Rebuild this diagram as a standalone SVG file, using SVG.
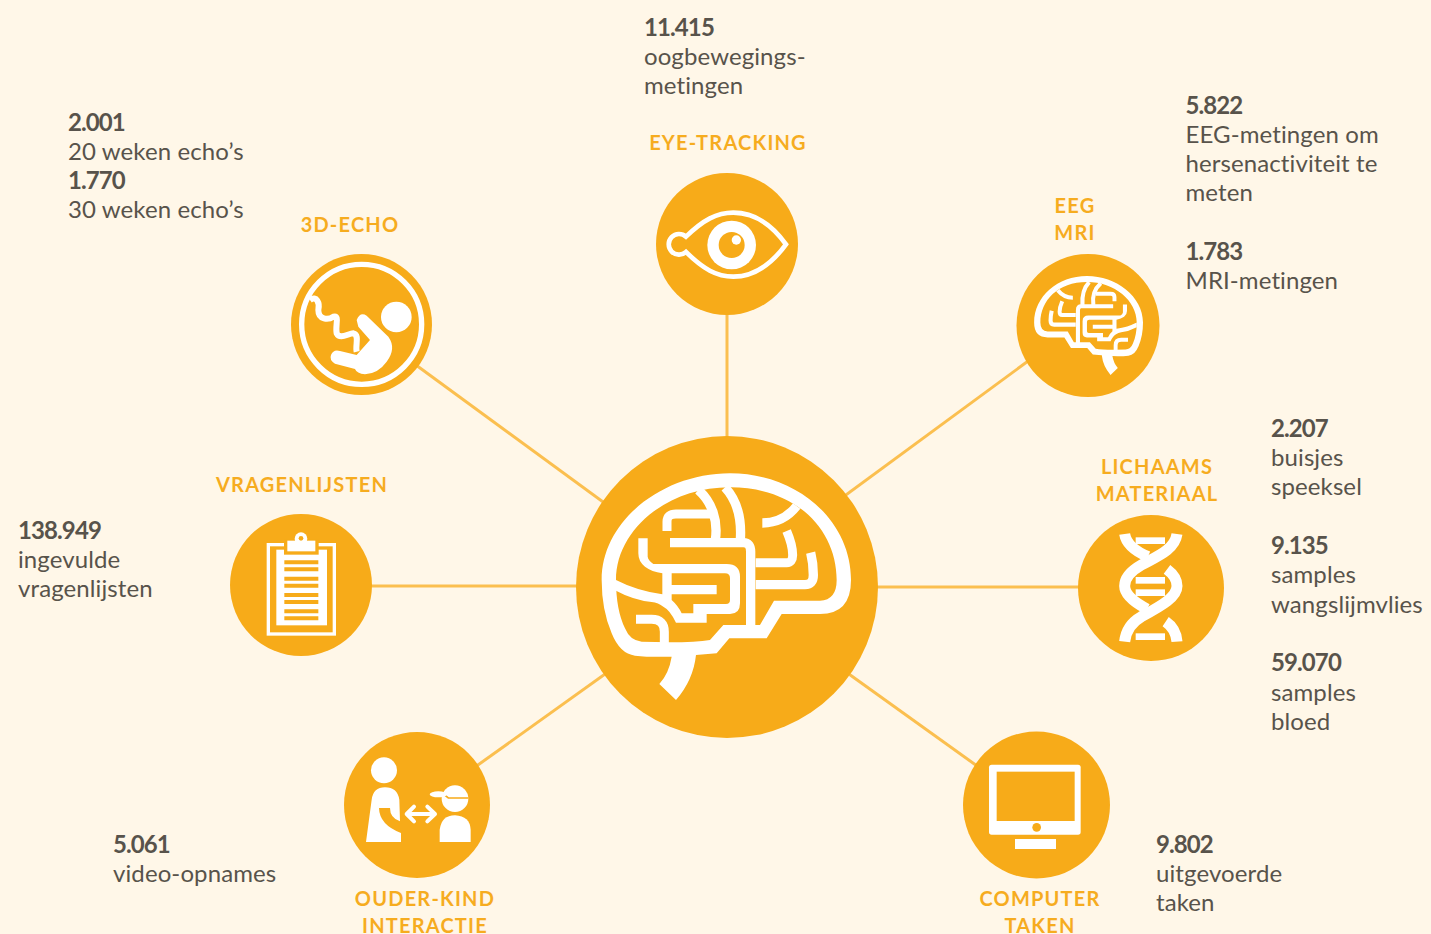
<svg xmlns="http://www.w3.org/2000/svg" xmlns:xlink="http://www.w3.org/1999/xlink" width="1431" height="934" viewBox="0 0 1431 934">
<style>
.c{fill:#F7AB19}
.w{fill:#fff}
.o{fill:#F7AB19}
.ws{fill:none;stroke:#fff}
.l{fill:#F6AC1F;font:700 20px Lato,"Liberation Sans",sans-serif;letter-spacing:1.2px;text-anchor:middle}
.t{fill:#58534B;font:400 24px Lato,"Liberation Sans",sans-serif;letter-spacing:.1px}
.b{font-weight:700;letter-spacing:-.9px}
#connectors line{stroke:#FBBF4F;stroke-width:3}
</style>
<defs>
<g id="brain">
<path class="w" fill-rule="evenodd" d="M305,680 Q240,682 195,677 Q150,672 125,610 Q95,540 95,450 C95,270 280,130 480,130 C680,130 843,270 843,450 Q843,552 750,552 H635 L590,625 H478 L440,670 L378,675 Q370,750 318,810 L268,762 Q297,730 305,680 Z M297,637 Q380,637 420,630 L460,585 H570 L612,512 H750 Q800,510 800,450 C800,300 680,172 480,172 C290,172 138,300 138,450 Q138,540 165,595 Q180,632 215,635 Z"/>
<path class="ws" stroke-width="28" d="M385,180 C425,215 445,270 436,330"/>
<path class="ws" stroke-width="28" d="M465,172 C505,215 515,270 511,330"/>
<path class="ws" stroke-width="27" d="M291,303 V275 Q291,252 318,252 H420"/>
<path class="ws" stroke-width="28" d="M577,279 C620,279 655,260 680,228"/>
<path class="ws" stroke-width="28" d="M300,338 H520 Q542,338 542,365 V590"/>
<path class="ws" stroke-width="27" d="M557,398 H650 Q668,398 668,375 Q668,345 650,303"/>
<path class="ws" stroke-width="28" d="M557,464 H705 Q730,464 730,435 Q730,400 722,368"/>
<path class="ws" stroke-width="27" d="M198,568 H245 Q283,568 283,605 V640"/>
<path class="w" fill-rule="evenodd" d="M205,325 H233 V380 Q235,392 250,402 H470 Q510,402 510,440 V520 Q510,552 480,552 H410 V578 H318 Q300,540 280,530 Q265,518 245,516 Q190,510 138,482 V450 Q200,482 277,493 V430 Q245,425 225,410 Q205,395 205,370 Z M305,430 H465 Q480,430 480,445 V510 Q480,522 468,522 H370 V550 H335 Q325,528 305,510 V493 H440 V465 H305 Z"/>
</g>
</defs>
<rect width="1431" height="934" fill="#FFF7E8"/>
<g id="connectors">
<line x1="727" y1="587" x2="727" y2="244"/>
<line x1="640" y1="529" x2="390" y2="346"/>
<line x1="820" y1="514" x2="1050" y2="345"/>
<line x1="727" y1="587" x2="1151" y2="587"/>
<line x1="727" y1="586" x2="301" y2="586"/>
<line x1="640" y1="649" x2="450" y2="785"/>
<line x1="814" y1="649" x2="1005" y2="786"/>
</g>
<g id="center">
<circle class="c" cx="727" cy="587" r="151"/>
<use xlink:href="#brain" href="#brain" transform="translate(570,430) scale(.33333)"/>
</g>
<g id="eye-tracking">
<circle class="c" cx="727" cy="244" r="71"/>
<g transform="translate(650,165) scale(.33333)">
<path class="ws" stroke-width="14" d="M108,261 A31,31 0 1 1 108,215 C160,165 200,143 250,143 C320,143 370,185 408,238 C370,290 320,335 250,335 C200,335 160,312 108,261 Z"/>
<circle class="w" cx="245" cy="240" r="73"/>
<circle class="o" cx="245" cy="240" r="39"/>
<circle class="w" cx="259" cy="225" r="14"/>
</g>
<text class="l" x="728" y="150">EYE-TRACKING</text>
<text class="t" x="644" y="35.5"><tspan class="b">11.415</tspan><tspan x="644" dy="29.3">oogbewegings-</tspan><tspan x="644" dy="29.3">metingen</tspan></text>
</g>
<g id="echo">
<circle class="c" cx="361.5" cy="324.5" r="70.5"/>
<g transform="translate(285,245) scale(.33333)">
<circle class="ws" cx="230" cy="238" r="180" stroke-width="16"/>
<circle class="w" cx="334" cy="216" r="46"/>
<path class="w" d="M215,225 Q225,200 245,212 L310,275 Q335,310 305,350 Q280,385 240,388 Q215,385 210,372 L150,356 Q132,345 138,330 Q145,312 165,318 L215,330 L255,285 L220,245 Z"/>
<path class="ws" stroke-width="18" d="M75,165 C95,150 105,175 100,195 C100,225 130,225 145,215 C165,210 150,240 155,265 C165,285 190,265 205,265 C225,270 210,300 215,320"/>
</g>
<text class="l" x="350" y="232">3D-ECHO</text>
<text class="t" x="68" y="130.5"><tspan class="b">2.001</tspan><tspan x="68" dy="29.3">20 weken echo’s</tspan><tspan class="b" x="68" dy="29.3">1.770</tspan><tspan x="68" dy="29.3">30 weken echo’s</tspan></text>
</g>
<g id="eeg-mri">
<circle class="c" cx="1088" cy="325.5" r="71.5"/>
<use xlink:href="#brain" href="#brain" transform="translate(1156.83,257.08) scale(-.14557,.14557)"/>
<text class="l" x="1075" y="213">EEG</text>
<text class="l" x="1075" y="240">MRI</text>
<text class="t" x="1185.5" y="113.5"><tspan class="b">5.822</tspan><tspan x="1185.5" dy="29.3">EEG-metingen om</tspan><tspan x="1185.5" dy="29.3">hersenactiviteit te</tspan><tspan x="1185.5" dy="29.3">meten</tspan><tspan class="b" x="1185.5" dy="58.6">1.783</tspan><tspan x="1185.5" dy="29.3">MRI-metingen</tspan></text>
</g>
<g id="lichaamsmateriaal">
<circle class="c" cx="1151" cy="588" r="73"/>
<g transform="translate(1073,510) scale(.33333)">
<g class="ws" stroke-width="33">
<path d="M312,72 C305,120 250,140 205,165 C170,185 155,205 155,228 C155,255 190,280 222,297"/>
<path d="M155,72 C160,105 190,125 225,140"/>
<path d="M282,178 C305,195 312,210 312,228 C312,260 270,285 205,320 C170,340 158,365 155,395"/>
<path d="M278,335 C300,350 310,370 312,395"/>
</g>
<rect class="w" x="188" y="82" width="88" height="20"/>
<rect class="w" x="188" y="201" width="88" height="20"/>
<rect class="w" x="188" y="238" width="88" height="20"/>
<rect class="w" x="188" y="370" width="88" height="20"/>
</g>
<text class="l" x="1157" y="474">LICHAAMS</text>
<text class="l" x="1157" y="501">MATERIAAL</text>
<text class="t" x="1271" y="436.5"><tspan class="b">2.207</tspan><tspan x="1271" dy="29.3">buisjes</tspan><tspan x="1271" dy="29.3">speeksel</tspan><tspan class="b" x="1271" dy="58.9">9.135</tspan><tspan x="1271" dy="29.3">samples</tspan><tspan x="1271" dy="29.3">wangslijmvlies</tspan><tspan class="b" x="1271" dy="58.6">59.070</tspan><tspan x="1271" dy="29.3">samples</tspan><tspan x="1271" dy="29.3">bloed</tspan></text>
</g>
<g id="vragenlijsten">
<circle class="c" cx="301" cy="585" r="71"/>
<g transform="translate(225,508) scale(.33333)">
<rect class="ws" x="130" y="110" width="198" height="268" stroke-width="10"/>
<rect class="w" x="154" y="125" width="152" height="227"/>
<rect class="o" x="177" y="95" width="104" height="45"/>
<rect class="w" x="187" y="98" width="84" height="32"/>
<circle class="w" cx="228" cy="92" r="19"/>
<circle class="o" cx="228" cy="91" r="7"/>
<path class="o" d="M178,157h102v12h-102zM178,178h102v12h-102zM178,206h102v12h-102zM178,227h102v12h-102zM178,255h102v12h-102zM178,276h102v12h-102zM178,304h102v12h-102zM178,325h102v12h-102z"/>
</g>
<text class="l" x="302" y="492">VRAGENLIJSTEN</text>
<text class="t" x="18" y="538.5"><tspan class="b">138.949</tspan><tspan x="18" dy="29.3">ingevulde</tspan><tspan x="18" dy="29.3">vragenlijsten</tspan></text>
</g>
<g id="ouder-kind">
<circle class="c" cx="417" cy="805" r="73"/>
<g transform="translate(340,728) scale(.33333)">
<circle class="w" cx="132" cy="127" r="39"/>
<path class="w" d="M78,342 L95,215 Q100,178 135,178 Q172,178 178,215 L180,280 Q150,270 150,240 H117 Q118,290 183,315 V342 Z"/>
<path class="ws" stroke-width="12" stroke-linecap="round" stroke-linejoin="round" d="M205,258 H280 M222,236 L200,258 L222,280 M262,236 L285,258 L262,280"/>
<circle class="w" cx="345" cy="212" r="40"/>
<path fill="none" stroke="#F7AB19" stroke-width="5" d="M300,190 L325,210 H385"/>
<ellipse class="w" cx="295" cy="199" rx="26" ry="9"/>
<path class="w" d="M299,342 V305 Q305,262 345,262 Q390,265 392,305 V342 Z"/>
</g>
<text class="l" x="425" y="906">OUDER-KIND</text>
<text class="l" x="425" y="933">INTERACTIE</text>
<text class="t" x="113" y="852.5"><tspan class="b">5.061</tspan><tspan x="113" dy="29.3">video-opnames</tspan></text>
</g>
<g id="computer-taken">
<circle class="c" cx="1036.5" cy="805" r="73.5"/>
<g transform="translate(958,728) scale(.33333)">
<rect class="w" x="93" y="110" width="275" height="210" rx="8"/>
<rect class="o" x="116" y="131" width="234" height="148"/>
<circle class="o" cx="236" cy="298" r="13"/>
<rect class="w" x="171" y="333" width="123" height="30"/>
</g>
<text class="l" x="1040" y="906">COMPUTER</text>
<text class="l" x="1040" y="933">TAKEN</text>
<text class="t" x="1156" y="852.5"><tspan class="b">9.802</tspan><tspan x="1156" dy="29.3">uitgevoerde</tspan><tspan x="1156" dy="29.3">taken</tspan></text>
</g>
</svg>
